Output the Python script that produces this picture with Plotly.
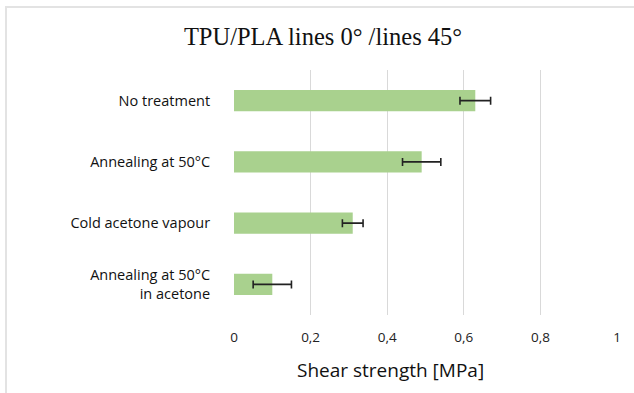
import plotly.graph_objects as go

categories = ["No treatment", "Annealing at 50°C", "Cold acetone vapour", "Annealing at 50°C<br>in acetone"]
values = [0.63, 0.49, 0.31, 0.10]
errors = [0.04, 0.05, 0.027, 0.05]
x_ticks = [0, 0.2, 0.4, 0.6, 0.8, 1]
x_tick_labels = ["0", "0,2", "0,4", "0,6", "0,8", "1"]

W, H = 634, 393
L, R, T, B = 234, 17, 70, 78
pw, ph = W - L - R, H - T - B

fig = go.Figure()
fig.add_trace(go.Bar(
    y=categories, x=values, orientation="h",
    marker=dict(color="#a9d18e", line=dict(width=0)),
    error_x=dict(type="data", array=errors, visible=True, color="#222222", thickness=1.6, width=4),
))

fig.update_layout(
    width=W, height=H,
    margin=dict(l=L, r=R, t=T, b=B, autoexpand=False),
    paper_bgcolor="white", plot_bgcolor="white",
    showlegend=False,
    bargap=0.65,
    title=dict(text="TPU/PLA lines 0° /lines 45°", x=323 / W, xref="container", xanchor="center",
               y=1 - 36 / H, yref="container", yanchor="middle",
               font=dict(family="Liberation Serif", size=24.5, color="#111111")),
    font=dict(family="Open Sans", color="#222222"),
    annotations=[dict(text="Shear strength [MPa]", xref="paper", yref="paper",
                      x=(390 - L) / pw, y=-(370 - (T + ph)) / ph, xanchor="center", yanchor="middle",
                      showarrow=False, font=dict(size=19, color="#111111"))],
    shapes=[dict(type="rect", xref="paper", yref="paper",
                 x0=(6 - L) / pw, x1=(645 - L) / pw,
                 y0=-(405 - (T + ph)) / ph, y1=((T + ph) - 7) / ph,
                 line=dict(color="#e3e3e3", width=2), fillcolor="rgba(0,0,0,0)", layer="below")],
)
fig.update_xaxes(
    range=[0, 1], tickvals=x_ticks, ticktext=x_tick_labels,
    showgrid=True, gridcolor="#d9d9d9", gridwidth=1,
    zeroline=False, showline=False, ticks="outside", ticklen=10, tickcolor="rgba(0,0,0,0)",
    tickfont=dict(size=13.5, color="#222222"),
)
fig.update_yaxes(
    autorange="reversed", showgrid=False, zeroline=False, showline=False,
    ticks="outside", ticklen=20, tickcolor="rgba(0,0,0,0)",
    tickfont=dict(size=14.5, color="#111111"),
)

fig.write_html("out.html", config={"displayModeBar": False},
               post_script="document.body.style.margin='0';")
